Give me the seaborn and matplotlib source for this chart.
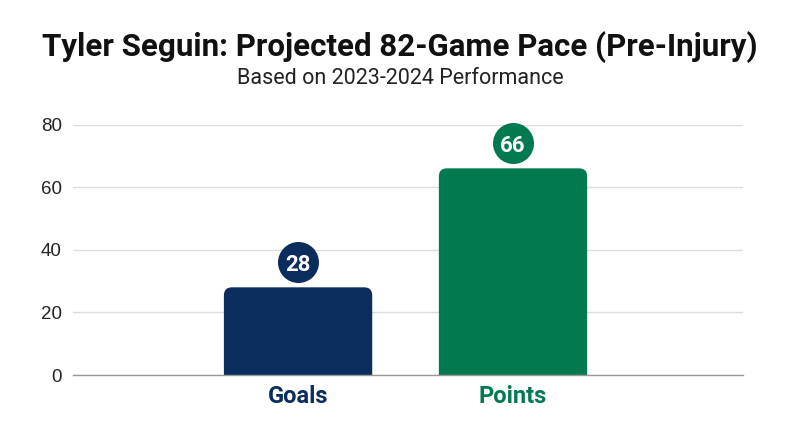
import matplotlib
matplotlib.use("Agg")
import matplotlib.pyplot as plt
import seaborn as sns
import pandas as pd
from matplotlib.patches import FancyBboxPatch

categories = ["Goals", "Points"]
values = [28, 66]
colors = ["#0B2D5E", "#027A4F"]
yticks = [0, 20, 40, 60, 80]
title = "Tyler Seguin: Projected 82-Game Pace (Pre-Injury)"
subtitle = "Based on 2023-2024 Performance"

sns.set_theme(style="white")
plt.rcParams["font.family"] = ["Roboto", "DejaVu Sans"]

fig = plt.figure(figsize=(8, 4.47), dpi=100)
ax = fig.add_axes([73/800, 1 - 375/447, 670/800, (375 - 124.5)/447])

df = pd.DataFrame({"cat": categories, "val": values})
sns.barplot(data=df, x="cat", y="val", hue="cat", palette=colors, legend=False,
            width=0.69, ax=ax, saturation=1)

ax.set_xlim(-1.047, 2.07)
ax.set_ylim(0, 80)
ax.set_yticks(yticks)
ax.set_yticklabels([str(t) for t in yticks], fontsize=13.5, color="#222222",
                   family=["Liberation Sans", "DejaVu Sans"])
ax.grid(axis="y", color="#dddddd", linewidth=1)
ax.set_axisbelow(True)
for s in ["top", "right", "left"]:
    ax.spines[s].set_visible(False)
ax.spines["bottom"].set_color("#999999")
ax.spines["bottom"].set_linewidth(1)
ax.spines["bottom"].set_zorder(5)
ax.tick_params(axis="both", length=0, pad=8)
ax.tick_params(axis="x", pad=7)
ax.set_xlabel("")
ax.set_ylabel("")
for lbl, c in zip(ax.get_xticklabels(), colors):
    lbl.set_color(c)
    lbl.set_fontweight("bold")
    lbl.set_fontsize(17)

# rounded top corners
fig.canvas.draw()
px_x = ax.transData.transform((1, 0))[0] - ax.transData.transform((0, 0))[0]
px_y = ax.transData.transform((0, 1))[1] - ax.transData.transform((0, 0))[1]
r_px = 8
rx = r_px / px_x
ry = r_px / px_y
for p, c in zip(list(ax.patches), colors):
    x0, w, h = p.get_x(), p.get_width(), p.get_height()
    p.set_visible(False)
    fb = FancyBboxPatch((x0, -ry * 2), w, h + ry * 2,
                        boxstyle=f"round,pad=0,rounding_size={rx}",
                        mutation_aspect=ry / rx, facecolor=c, edgecolor="none",
                        zorder=3, clip_on=True)
    ax.add_patch(fb)
    cx = x0 + w / 2
    ytop = h + 25 / px_y
    ax.scatter([cx], [ytop], s=(41 * 0.72) ** 2, color=c, zorder=4, clip_on=False,
               linewidths=0)
    ax.text(cx, ytop, f"{h:.0f}", ha="center", va="center_baseline", color="white",
            fontsize=16, fontweight="bold", zorder=5)

fig.text(0.5, 1 - 47/447, title, ha="center", va="center", fontsize=22.5,
         fontweight="bold", color="#111111")
fig.text(0.5, 1 - 78/447, subtitle, ha="center", va="center", fontsize=15.5,
         color="#222222")

fig.savefig("out.png", dpi=100, facecolor="white")
